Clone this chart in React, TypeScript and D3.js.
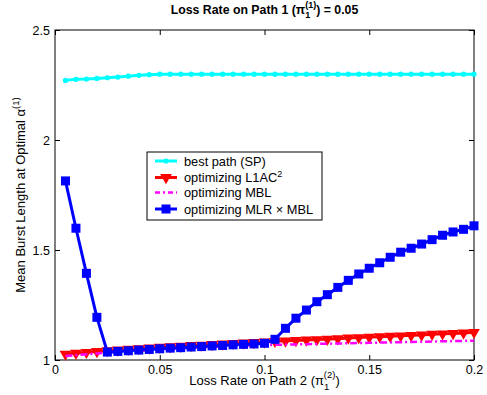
import { useEffect, useRef } from 'react';
import * as d3 from 'd3';

const lossRate2 = d3.range(1, 41).map((i) => +(i * 0.005).toFixed(3));

const bestPath = [
  2.271, 2.276, 2.277, 2.28, 2.283, 2.286, 2.29, 2.294, 2.297, 2.299,
  2.299, 2.299, 2.299, 2.299, 2.299, 2.299, 2.299, 2.299, 2.299, 2.299,
  2.299, 2.299, 2.299, 2.299, 2.299, 2.299, 2.299, 2.299, 2.299, 2.299,
  2.299, 2.299, 2.299, 2.299, 2.299, 2.299, 2.299, 2.299, 2.299, 2.299,
];

const optL1AC2 = [
  1.027, 1.031, 1.035, 1.039, 1.043, 1.046, 1.049, 1.052, 1.055, 1.058,
  1.061, 1.063, 1.066, 1.068, 1.071, 1.073, 1.076, 1.078, 1.08, 1.082,
  1.085, 1.087, 1.089, 1.091, 1.093, 1.095, 1.097, 1.1, 1.102, 1.104,
  1.106, 1.108, 1.11, 1.112, 1.114, 1.117, 1.119, 1.121, 1.123, 1.126,
];

const optMBL = [
  1.018, 1.022, 1.026, 1.03, 1.033, 1.036, 1.039, 1.042, 1.045, 1.048,
  1.05, 1.053, 1.055, 1.057, 1.059, 1.061, 1.063, 1.065, 1.067, 1.068,
  1.069, 1.07, 1.071, 1.072, 1.073, 1.074, 1.075, 1.076, 1.077, 1.078,
  1.079, 1.08, 1.081, 1.082, 1.083, 1.084, 1.085, 1.086, 1.087, 1.088,
];

const optMLRxMBL = [
  1.814, 1.599, 1.394, 1.194, 1.036, 1.039, 1.042, 1.045, 1.048, 1.051,
  1.054, 1.056, 1.059, 1.061, 1.064, 1.066, 1.069, 1.071, 1.073, 1.076,
  1.094, 1.144, 1.19, 1.227, 1.265, 1.297, 1.33, 1.362, 1.391, 1.417,
  1.442, 1.467, 1.49, 1.508, 1.527, 1.547, 1.567, 1.582, 1.594, 1.61,
];

const xTicks = [0, 0.05, 0.1, 0.15, 0.2];
const yTicks = [1, 1.5, 2, 2.5];

const FONT = '"Liberation Sans", Arial, Helvetica, sans-serif';

export default function App() {
  const svgRef = useRef<SVGSVGElement>(null);

  useEffect(() => {
    if (!svgRef.current) return;
    const width = 487;
    const height = 395;
    const margin = { top: 30, right: 13, bottom: 35, left: 55 };
    const innerWidth = width - margin.left - margin.right;
    const innerHeight = height - margin.top - margin.bottom;

    const svg = d3.select(svgRef.current);
    svg.selectAll('*').remove();
    svg.attr('width', width).attr('height', height);

    svg.append('rect').attr('width', width).attr('height', height).attr('fill', '#fff');

    const x = d3.scaleLinear().domain([0, 0.2]).range([0, innerWidth]);
    const y = d3.scaleLinear().domain([1, 2.5]).range([innerHeight, 0]);

    const g = svg.append('g').attr('transform', `translate(${margin.left},${margin.top})`);

    // frame
    g.append('rect')
      .attr('width', innerWidth)
      .attr('height', innerHeight)
      .attr('fill', '#fff')
      .attr('stroke', '#000')
      .attr('stroke-width', 1);

    // axes with inward ticks, mirrored on top/right
    const styleAxis = (sel: d3.Selection<SVGGElement, unknown, null, undefined>) => {
      sel.select('.domain').remove();
      sel.selectAll('text').attr('font-size', 12.5).attr('font-family', FONT).attr('fill', '#000');
    };
    const fmt = (d: d3.NumberValue) => String(+d);

    g.append('g')
      .attr('transform', `translate(0,${innerHeight})`)
      .call(d3.axisBottom(x).tickValues(xTicks).tickSize(-5).tickPadding(5).tickFormat(fmt))
      .call(styleAxis);
    g.append('g')
      .call(d3.axisTop(x).tickValues(xTicks).tickSize(-5).tickFormat(() => ''))
      .call(styleAxis);
    g.append('g')
      .call(d3.axisLeft(y).tickValues(yTicks).tickSize(-5).tickPadding(5).tickFormat(fmt))
      .call(styleAxis);
    g.append('g')
      .attr('transform', `translate(${innerWidth},0)`)
      .call(d3.axisRight(y).tickValues(yTicks).tickSize(-5).tickFormat(() => ''))
      .call(styleAxis);

    const line = (vals: number[]) =>
      d3
        .line<number>()
        .x((_, i) => x(lossRate2[i]))
        .y((d) => y(d))(vals) ?? '';

    // best path (SP)
    g.append('path')
      .attr('d', line(bestPath))
      .attr('fill', 'none')
      .attr('stroke', '#00ffff')
      .attr('stroke-width', 3);
    g.selectAll('.sp')
      .data(bestPath)
      .join('circle')
      .attr('cx', (_, i) => x(lossRate2[i]))
      .attr('cy', (d) => y(d))
      .attr('r', 2.6)
      .attr('fill', '#00ffff');

    // optimizing L1AC^2
    const tri = d3.symbol().type(d3.symbolTriangle).size(60);
    g.append('path')
      .attr('d', line(optL1AC2))
      .attr('fill', 'none')
      .attr('stroke', '#ff0000')
      .attr('stroke-width', 3);
    g.selectAll('.l1')
      .data(optL1AC2)
      .join('path')
      .attr('d', tri)
      .attr('transform', (d, i) => `translate(${x(lossRate2[i])},${y(d)}) rotate(180)`)
      .attr('fill', '#ff0000');

    // optimizing MBL
    g.append('path')
      .attr('d', line(optMBL))
      .attr('fill', 'none')
      .attr('stroke', '#ff00ff')
      .attr('stroke-width', 2.5)
      .attr('stroke-dasharray', '7,3,2,3');

    // optimizing MLR x MBL
    g.append('path')
      .attr('d', line(optMLRxMBL))
      .attr('fill', 'none')
      .attr('stroke', '#0000ff')
      .attr('stroke-width', 3);
    g.selectAll('.mlr')
      .data(optMLRxMBL)
      .join('rect')
      .attr('x', (_, i) => x(lossRate2[i]) - 4.5)
      .attr('y', (d) => y(d) - 4.5)
      .attr('width', 9)
      .attr('height', 9)
      .attr('fill', '#0000ff');

    // legend
    const lg = svg.append('g').attr('transform', 'translate(147,152)');
    lg.append('rect')
      .attr('width', 175)
      .attr('height', 68)
      .attr('fill', '#fff')
      .attr('stroke', '#000')
      .attr('stroke-width', 1);
    const rows = [9, 25.5, 40.5, 57];
    const lx0 = 8;
    const lx1 = 30;
    const mid = (lx0 + lx1) / 2;
    // SP
    lg.append('line').attr('x1', lx0).attr('x2', lx1).attr('y1', rows[0]).attr('y2', rows[0])
      .attr('stroke', '#00ffff').attr('stroke-width', 3);
    lg.append('circle').attr('cx', mid).attr('cy', rows[0]).attr('r', 2.6).attr('fill', '#00ffff');
    // L1AC2
    lg.append('line').attr('x1', lx0).attr('x2', lx1).attr('y1', rows[1]).attr('y2', rows[1])
      .attr('stroke', '#ff0000').attr('stroke-width', 3);
    lg.append('path').attr('d', tri).attr('transform', `translate(${mid},${rows[1]}) rotate(180)`)
      .attr('fill', '#ff0000');
    // MBL
    lg.append('line').attr('x1', lx0).attr('x2', lx1).attr('y1', rows[2]).attr('y2', rows[2])
      .attr('stroke', '#ff00ff').attr('stroke-width', 2.5).attr('stroke-dasharray', '5,3,2,3');
    // MLR x MBL
    lg.append('line').attr('x1', lx0).attr('x2', lx1).attr('y1', rows[3]).attr('y2', rows[3])
      .attr('stroke', '#0000ff').attr('stroke-width', 3);
    lg.append('rect').attr('x', mid - 4.5).attr('y', rows[3] - 4.5).attr('width', 9).attr('height', 9)
      .attr('fill', '#0000ff');

    const lt = (i: number) =>
      lg.append('text')
        .attr('x', 37)
        .attr('y', rows[i] + 4.5)
        .attr('font-size', 12.8)
        .attr('font-family', FONT)
        .attr('fill', '#000');
    lt(0).text('best path (SP)');
    const t1 = lt(1);
    t1.append('tspan').text('optimizing L1AC');
    t1.append('tspan').attr('dy', -5).attr('font-size', 9).text('2');
    lt(2).text('optimizing MBL');
    lt(3).text('optimizing MLR \u00d7 MBL');

    // title
    const title = svg.append('text')
      .attr('x', margin.left + innerWidth / 2)
      .attr('y', 14)
      .attr('text-anchor', 'middle')
      .attr('font-size', 12.3)
      .attr('font-weight', 'bold')
      .attr('font-family', FONT);
    title.append('tspan').text('Loss Rate on Path 1 (\u03c0');
    title.append('tspan').attr('font-size', 9).attr('dy', 4).text('1');
    title.append('tspan').attr('font-size', 9).attr('dx', -5).attr('dy', -10).text('(1)');
    title.append('tspan').attr('dy', 6).text(') = 0.05');

    // x label
    const xl = svg.append('text')
      .attr('x', margin.left + innerWidth / 2)
      .attr('y', 385)
      .attr('text-anchor', 'middle')
      .attr('font-size', 13)
      .attr('font-family', FONT);
    xl.append('tspan').text('Loss Rate on Path 2 (\u03c0');
    xl.append('tspan').attr('font-size', 9.5).attr('dy', 5).text('1');
    xl.append('tspan').attr('font-size', 9.5).attr('dx', -5.5).attr('dy', -12).text('(2)');
    xl.append('tspan').attr('dy', 7).text(')');

    // y label
    const yl = svg.append('text')
      .attr('transform', `translate(25,${margin.top + innerHeight / 2}) rotate(-90)`)
      .attr('text-anchor', 'middle')
      .attr('font-size', 13)
      .attr('font-family', FONT);
    yl.append('tspan').text('Mean Burst Length at Optimal \u03b1');
    yl.append('tspan').attr('font-size', 9.5).attr('dy', -6).text('(1)');
  }, []);

  return (
    <svg
      ref={svgRef}
      style={{ position: 'absolute', left: 0, top: 0, display: 'block' }}
    />
  );
}
